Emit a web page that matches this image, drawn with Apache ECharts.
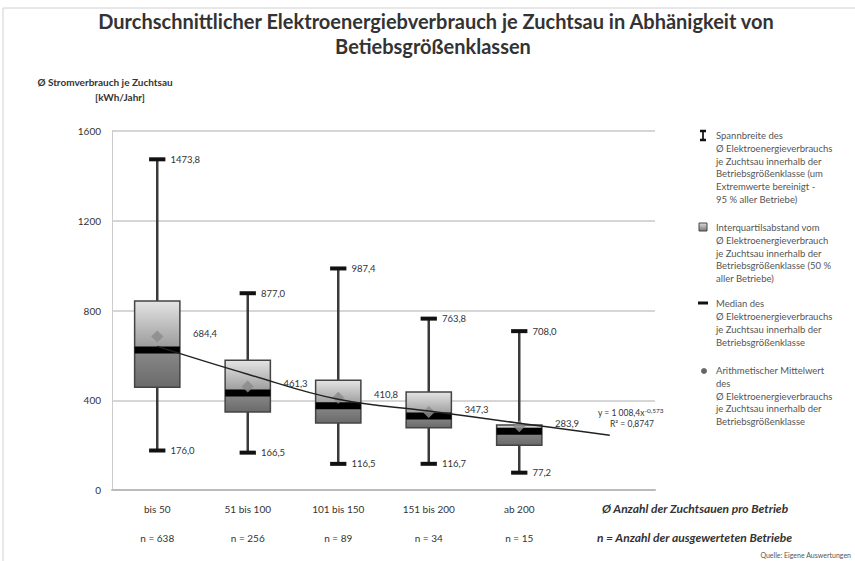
<!DOCTYPE html>
<html><head><meta charset="utf-8">
<script src="https://cdn.jsdelivr.net/npm/echarts@6/dist/echarts.min.js"></script>
<style>html,body{margin:0;padding:0;background:#fff}#c{width:855px;height:561px}</style>
</head><body><div id="c"></div>
<script>
// ---- data ----
const categories = ['bis 50', '51 bis 100', '101 bis 150', '151 bis 200', 'ab 200'];
const sampleSizes = ['n = 638', 'n = 256', 'n = 89', 'n = 34', 'n = 15'];
const maxVals = [1473.8, 877.0, 987.4, 763.8, 708.0];
const q3Vals = [842, 578, 489, 437, 290];
const medianVals = [624, 432, 376, 330, 262];
const q1Vals = [458, 348, 299, 277, 200];
const minVals = [176.0, 166.5, 116.5, 116.7, 77.2];
const meanVals = [684.4, 461.3, 410.8, 347.3, 283.9];
const trendVals = [640, 516, 404, 352, 298, 244];
const yTicks = [0, 400, 800, 1200, 1600];

const FONT = 'Lato';
function fmt(v) { return v.toFixed(1).replace('.', ','); }

const boxData = categories.map((c, i) => [i, maxVals[i], q3Vals[i], medianVals[i], q1Vals[i], minVals[i], meanVals[i]]);

function renderBox(params, api) {
  const i = api.value(0);
  const cx = api.coord([i, 0])[0];
  const band = api.size([1, 0])[0];
  const bw = band * 0.5, cw = band * 0.18;
  const y = k => api.coord([i, api.value(k)])[1];
  const yMax = y(1), yQ3 = y(2), yMed = y(3), yQ1 = y(4), yMin = y(5), yMean = y(6);
  const ws = { stroke: '#3a3a3a', lineWidth: 2.5 };
  const cs = { stroke: '#111', lineWidth: 4 };
  const ts = { fontSize: 9.5, fontFamily: FONT, fill: '#333', verticalAlign: 'middle', align: 'left' };
  const d = 6;
  return {
    type: 'group',
    children: [
      { type: 'line', shape: { x1: cx, y1: yMax, x2: cx, y2: yQ3 }, style: ws },
      { type: 'line', shape: { x1: cx, y1: yQ1, x2: cx, y2: yMin }, style: ws },
      { type: 'line', shape: { x1: cx - cw / 2, y1: yMax, x2: cx + cw / 2, y2: yMax }, style: cs },
      { type: 'line', shape: { x1: cx - cw / 2, y1: yMin, x2: cx + cw / 2, y2: yMin }, style: cs },
      { type: 'rect', shape: { x: cx - bw / 2, y: yQ3, width: bw, height: yMed - yQ3 },
        style: { fill: { type: 'linear', x: 0, y: 0, x2: 0, y2: 1, colorStops: [{ offset: 0, color: '#e4e4e4' }, { offset: 1, color: '#979797' }] } } },
      { type: 'rect', shape: { x: cx - bw / 2, y: yMed, width: bw, height: yQ1 - yMed },
        style: { fill: { type: 'linear', x: 0, y: 0, x2: 0, y2: 1, colorStops: [{ offset: 0, color: '#8a8a8a' }, { offset: 1, color: '#6a6a6a' }] } } },
      { type: 'rect', shape: { x: cx - bw / 2, y: yQ3, width: bw, height: yQ1 - yQ3 }, style: { fill: 'none', stroke: '#444', lineWidth: 1.5 } },
      { type: 'line', shape: { x1: cx - bw / 2, y1: yMed, x2: cx + bw / 2, y2: yMed }, style: { stroke: '#000', lineWidth: 7 } },
      { type: 'polygon', shape: { points: [[cx, yMean - d], [cx + d, yMean], [cx, yMean + d], [cx - d, yMean]] }, style: { fill: 'rgba(140,140,140,0.85)' } },
      { type: 'text', x: cx + cw / 2 + 5, y: yMax, style: Object.assign({ text: fmt(api.value(1)) }, ts) },
      { type: 'text', x: cx + cw / 2 + 5, y: yMin, style: Object.assign({ text: fmt(api.value(5)) }, ts) },
      { type: 'text', x: cx + bw / 2 + 13, y: yMean - 3, style: Object.assign({ text: fmt(api.value(6)) }, ts) }
    ]
  };
}

const legendTs = { fontSize: 9.5, fontFamily: FONT, fill: '#555', lineHeight: 12.8, verticalAlign: 'top', align: 'left' };
function lt(text, y) { return { type: 'text', x: 716, y: y, style: Object.assign({ text: text }, legendTs) }; }

const chart = echarts.init(document.getElementById('c'), null, { renderer: 'svg' });
chart.setOption({
  animation: false,
  backgroundColor: '#fff',
  grid: { left: 112, right: 200, top: 131, bottom: 71 },
  xAxis: {
    type: 'category',
    data: categories.concat(['']),
    boundaryGap: true,
    axisTick: { show: false },
    axisLine: { lineStyle: { color: '#bbb', width: 2 } },
    axisLabel: {
      interval: 0, margin: 4,
      formatter: (v, idx) => idx < categories.length ? '{a|' + v + '}\n{a|' + sampleSizes[idx] + '}' : '',
      rich: { a: { fontSize: 10, fontFamily: FONT, color: '#333', lineHeight: 29 } }
    }
  },
  yAxis: {
    type: 'value', min: yTicks[0], max: yTicks[yTicks.length - 1], interval: 400,
    axisLine: { show: true, lineStyle: { color: '#ccc', width: 1 } },
    axisTick: { show: false },
    axisLabel: { fontSize: 10, fontFamily: FONT, color: '#333', margin: 11, formatter: v => String(v) },
    splitLine: { lineStyle: { color: '#c8c8c8', width: 1.5 } }
  },
  series: [
    { type: 'custom', renderItem: renderBox, data: boxData, z: 2 },
    { type: 'line', data: trendVals, smooth: 0.4, symbol: 'none', z: 3, lineStyle: { color: '#222', width: 1.5 } }
  ],
  graphic: [
    { type: 'rect', shape: { x: 3, y: 8, width: 900, height: 600 }, style: { fill: 'none', stroke: '#d0d0d0', lineWidth: 1 }, silent: true },
    { type: 'text', x: 436, y: 21, style: { text: 'Durchschnittlicher Elektroenergiebverbrauch je Zuchtsau in Abhänigkeit von', fontSize: 20, fontWeight: 'bold', fontFamily: FONT, fill: '#333', align: 'center', verticalAlign: 'middle' } },
    { type: 'text', x: 433, y: 46, style: { text: 'Betiebsgrößenklassen', fontSize: 20, fontWeight: 'bold', fontFamily: FONT, fill: '#333', align: 'center', verticalAlign: 'middle' } },
    { type: 'text', x: 105, y: 82, style: { text: 'Ø Stromverbrauch je Zuchtsau', fontSize: 10, fontWeight: 'bold', fontFamily: FONT, fill: '#333', align: 'center', verticalAlign: 'middle' } },
    { type: 'text', x: 120, y: 97, style: { text: '[kWh/Jahr]', fontSize: 10, fontWeight: 'bold', fontFamily: FONT, fill: '#333', align: 'center', verticalAlign: 'middle' } },
    { type: 'text', x: 602, y: 508, style: { text: 'Ø Anzahl der Zuchtsauen pro Betrieb', fontSize: 12, fontWeight: 'bold', fontStyle: 'italic', fontFamily: FONT, fill: '#333', align: 'left', verticalAlign: 'middle' } },
    { type: 'text', x: 597, y: 537, style: { text: 'n = Anzahl der ausgewerteten Betriebe', fontSize: 12, fontWeight: 'bold', fontStyle: 'italic', fontFamily: FONT, fill: '#333', align: 'left', verticalAlign: 'middle' } },
    { type: 'text', x: 851, y: 555, style: { text: 'Quelle: Eigene Auswertungen', fontSize: 7, fontFamily: FONT, fill: '#555', align: 'right', verticalAlign: 'middle' } },
    { type: 'text', x: 598, y: 413, style: { text: 'y = 1 008,4x{s|-0,573}', rich: { s: { fontSize: 6.5, fontFamily: FONT, fill: '#333', verticalAlign: 'bottom', padding: [0, 0, 6, 0] } }, fontSize: 8.5, fontFamily: FONT, fill: '#333', align: 'left', verticalAlign: 'middle' } },
    { type: 'text', x: 610, y: 424, style: { text: 'R² = 0,8747', fontSize: 8.5, fontFamily: FONT, fill: '#333', align: 'left', verticalAlign: 'middle' } },
    // legend icons
    { type: 'line', shape: { x1: 703, y1: 131, x2: 703, y2: 140 }, style: { stroke: '#333', lineWidth: 2 } },
    { type: 'line', shape: { x1: 700, y1: 131, x2: 706, y2: 131 }, style: { stroke: '#111', lineWidth: 2.5 } },
    { type: 'line', shape: { x1: 700, y1: 140, x2: 706, y2: 140 }, style: { stroke: '#111', lineWidth: 2.5 } },
    { type: 'rect', shape: { x: 699, y: 223, width: 8, height: 8 }, style: { fill: { type: 'linear', x: 0, y: 0, x2: 0, y2: 1, colorStops: [{ offset: 0, color: '#ddd' }, { offset: 1, color: '#777' }] }, stroke: '#444', lineWidth: 1 } },
    { type: 'line', shape: { x1: 698, y1: 303, x2: 708, y2: 303 }, style: { stroke: '#111', lineWidth: 3 } },
    { type: 'circle', shape: { cx: 704, cy: 371, r: 3 }, style: { fill: '#666' } },
    // legend texts
    lt('Spannbreite des\nØ Elektroenergieverbrauchs\nje Zuchtsau innerhalb der\nBetriebsgrößenklasse (um\nExtremwerte bereinigt -\n95 % aller Betriebe)', 129),
    lt('Interquartilsabstand vom\nØ Elektroenergieverbrauch\nje Zuchtsau innerhalb der\nBetriebsgrößenklasse (50 %\naller Betriebe)', 221),
    lt('Median des\nØ Elektroenergieverbrauchs\nje Zuchtsau innerhalb der\nBetriebsgrößenklasse', 297.5),
    lt('Arithmetischer Mittelwert\ndes\nØ Elektroenergieverbrauchs\nje Zuchtsau innerhalb der\nBetriebsgrößenklasse', 364)
  ]
});
</script>
</body></html>
